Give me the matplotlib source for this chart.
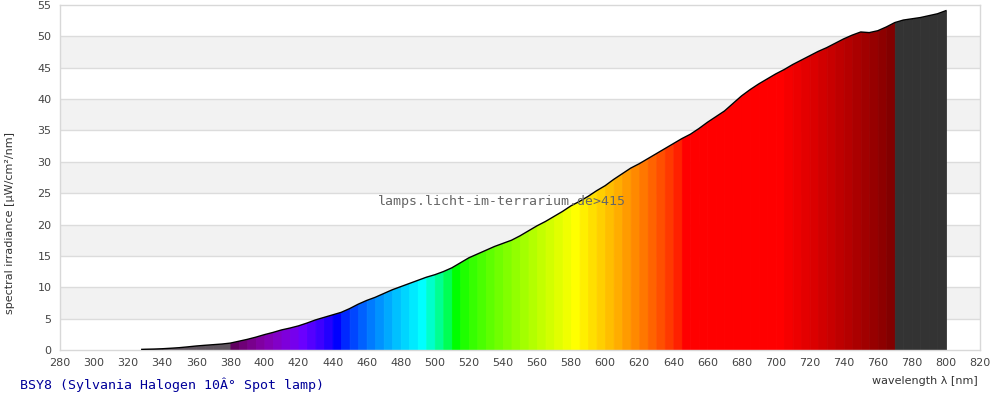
import numpy as np
import matplotlib
matplotlib.use('Agg')
import matplotlib.pyplot as plt

# spectrum (nm, uW/cm2/nm)
wavelength = [328, 330, 335, 340, 345, 350, 355, 360, 365, 370, 375, 380, 385, 390, 395,
              400, 405, 410, 415, 420, 425, 430, 435, 440, 445, 450, 455, 460, 465, 470,
              475, 480, 485, 490, 495, 500, 505, 510, 515, 520, 525, 530, 535, 540, 545,
              550, 555, 560, 565, 570, 575, 580, 585, 590, 595, 600, 605, 610, 615, 620,
              625, 630, 635, 640, 645, 650, 655, 660, 665, 670, 675, 680, 685, 690, 695,
              700, 705, 710, 715, 720, 725, 730, 735, 740, 745, 750, 755, 760, 765, 770,
              775, 780, 785, 790, 795, 800]
irradiance = [0.1, 0.12, 0.15, 0.2, 0.28, 0.37, 0.5, 0.64, 0.75, 0.85, 0.95, 1.1, 1.4, 1.7, 2.05,
              2.45, 2.8, 3.2, 3.5, 3.85, 4.3, 4.8, 5.2, 5.6, 6.0, 6.6, 7.3, 7.9, 8.4, 9.0,
              9.6, 10.1, 10.6, 11.1, 11.6, 12.0, 12.5, 13.1, 13.9, 14.7, 15.3, 15.9, 16.5, 17.0, 17.5,
              18.2, 19.0, 19.8, 20.5, 21.3, 22.1, 23.0, 23.7, 24.5, 25.4, 26.2, 27.2, 28.1, 29.0, 29.7,
              30.5, 31.3, 32.1, 32.9, 33.7, 34.4, 35.3, 36.3, 37.2, 38.1, 39.3, 40.5, 41.5, 42.4, 43.2,
              44.0, 44.7, 45.5, 46.2, 46.9, 47.6, 48.2, 48.9, 49.6, 50.2, 50.7, 50.6, 50.9, 51.5, 52.2,
              52.6, 52.8, 53.0, 53.3, 53.6, 54.1]

x_ticks = list(range(280, 821, 20))
y_ticks = list(range(0, 56, 5))
title = 'BSY8 (Sylvania Halogen 10Â° Spot lamp)'
watermark = 'lamps.licht-im-terrarium.de>415'


def wl_color(w):
    """rough visible-spectrum colour for a wavelength in nm"""
    if w < 380:
        return (0.37, 0.33, 0.37)
    if w >= 770:
        return (0.2, 0.2, 0.2)
    if w < 440:
        r, g, b = -(w - 440) / 60., 0., 1.
    elif w < 490:
        r, g, b = 0., (w - 440) / 50., 1.
    elif w < 510:
        r, g, b = 0., 1., -(w - 510) / 20.
    elif w < 580:
        r, g, b = (w - 510) / 70., 1., 0.
    elif w < 645:
        r, g, b = 1., -(w - 645) / 65., 0.
    else:
        r, g, b = 1., 0., 0.
    if w < 420:
        f = 0.3 + 0.7 * (w - 380) / 40.
    elif w > 700:
        f = 0.3 + 0.7 * (780 - w) / 80.
    else:
        f = 1.0
    return tuple((c * f) ** 0.8 if c > 0 else 0. for c in (r, g, b))


fig = plt.figure(figsize=(10, 4), dpi=100)
ax = fig.add_axes([0.06, 0.125, 0.92, 0.8625])

# alternating background bands
for lo in range(5, 55, 10):
    ax.axhspan(lo, lo + 5, color='#f2f2f2', zorder=0, lw=0)
for yv in y_ticks[1:-1]:
    ax.axhline(yv, color='#dcdcdc', lw=1, zorder=1)

wl = np.array(wavelength)
val = np.array(irradiance)
for i in range(len(wl) - 1):
    c = wl_color(wl[i])
    ax.fill_between(wl[i:i + 2], val[i:i + 2], color=c, lw=0.6, edgecolor=c, zorder=2)
ax.plot(wl, val, color='black', lw=1.0, zorder=3)

ax.set_xlim(280, 820)
ax.set_ylim(0, 55)
ax.set_xticks(x_ticks)
ax.set_yticks(y_ticks)
ax.tick_params(length=0, labelsize=8, labelcolor='#444444', pad=6)
for s in ax.spines.values():
    s.set_color('#d8d8d8')
    s.set_linewidth(1)

fig.text(0.01, 0.4425, 'spectral irradiance [µW/cm²/nm]', rotation=90, ha='center',
         va='center', fontsize=8, color='#333333')
fig.text(0.978, 0.047, 'wavelength λ [nm]', ha='right', va='center', fontsize=8, color='#333333')
fig.text(0.02, 0.037, title, ha='left', va='center', fontsize=9.5,
         family='DejaVu Sans Mono', color='#000099')
fig.text(0.5015, 0.4975, watermark, ha='center', va='center', fontsize=9.5,
         family='DejaVu Sans Mono', color='#666666', zorder=5)

fig.savefig('out.png', dpi=100)
